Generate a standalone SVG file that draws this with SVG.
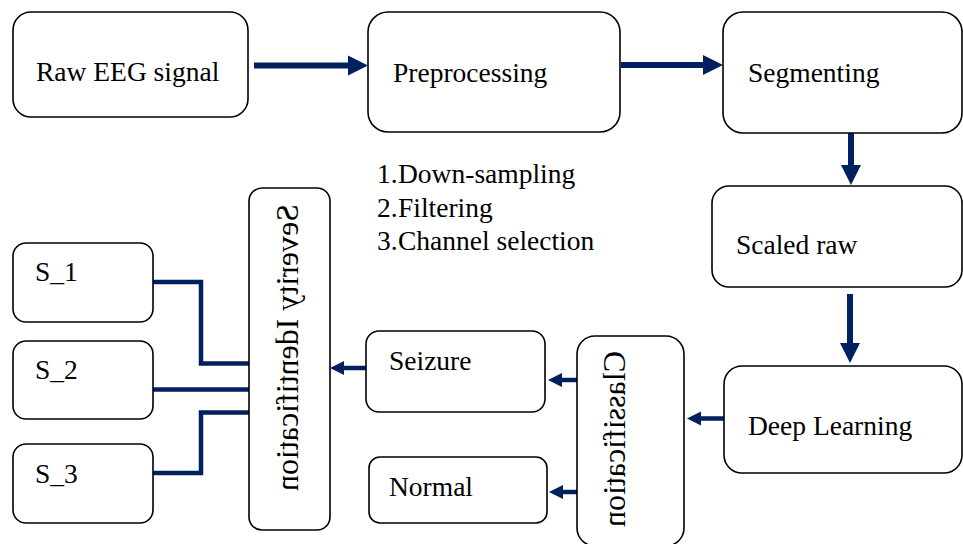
<svg xmlns="http://www.w3.org/2000/svg" width="963" height="544" viewBox="0 0 963 544" font-family="Liberation Serif, Times New Roman, serif">
<style>
.box{fill:#fff;stroke:#000;stroke-width:1.6}
.t{font-family:'Liberation Serif','Times New Roman',serif;font-size:27.5px;fill:#000}
.v{font-family:'Liberation Serif','Times New Roman',serif;font-size:32px;fill:#000}
.big{stroke:#002060;stroke-width:6;fill:none;marker-end:url(#hb)}
.sm{stroke:#002060;stroke-width:4.5;fill:none;marker-end:url(#hs)}
.ln{stroke:#002060;stroke-width:4.5;fill:none}
</style>
<defs>
<marker id="hb" markerUnits="userSpaceOnUse" markerWidth="21" markerHeight="21" refX="1" refY="10" orient="auto" viewBox="0 0 21 20">
<path d="M0,0 L20,10 L0,20 z" fill="#002060"/>
</marker>
<marker id="hs" markerUnits="userSpaceOnUse" markerWidth="15" markerHeight="15" refX="1" refY="7" orient="auto" viewBox="0 0 15 14">
<path d="M0,0 L14,7 L0,14 z" fill="#002060"/>
</marker>
</defs>
<rect width="963" height="544" fill="#fff"/>
<g id="connectors">
<line class="big" x1="254" y1="65.5" x2="349" y2="65.5"/>
<line class="big" x1="621" y1="65" x2="704" y2="65"/>
<line class="big" x1="851" y1="133" x2="851" y2="166"/>
<line class="big" x1="850" y1="294" x2="850" y2="344"/>
<line class="sm" x1="724" y1="418.5" x2="700" y2="418.5"/>
<line class="sm" x1="577" y1="380" x2="561" y2="380"/>
<line class="sm" x1="577" y1="492" x2="562" y2="492"/>
<line class="sm" x1="367" y1="368" x2="343" y2="368"/>
<polyline class="ln" points="153,282 201,282 201,363.5 250,363.5"/>
<line class="ln" x1="153" y1="389.5" x2="250" y2="389.5"/>
<polyline class="ln" points="153,473 201,473 201,412.5 250,412.5"/>
</g>
<g id="raw"><rect class="box" x="13" y="12" width="235" height="105" rx="18"/><text class="t" x="36" y="81">Raw EEG signal</text></g>
<g id="preprocessing"><rect class="box" x="368" y="12" width="252" height="120" rx="20"/><text class="t" x="393" y="82">Preprocessing</text></g>
<g id="segmenting"><rect class="box" x="723" y="12" width="239" height="121" rx="20"/><text class="t" x="748" y="82">Segmenting</text></g>
<g id="steps">
<text class="t" x="377" y="183">1.<tspan x="398">Down-sampling</tspan></text>
<text class="t" x="377" y="217">2.<tspan x="398">Filtering</tspan></text>
<text class="t" x="377" y="250">3.<tspan x="398">Channel selection</tspan></text>
</g>
<g id="scaled"><rect class="box" x="712" y="186" width="250" height="101" rx="17"/><text class="t" x="736" y="254">Scaled raw</text></g>
<g id="deep"><rect class="box" x="724" y="366" width="238" height="107" rx="18"/><text class="t" x="748" y="435">Deep Learning</text></g>
<g id="classification"><rect class="box" x="577" y="336" width="107" height="210" rx="18"/><text class="v" transform="matrix(0,1,1,0,625,351)">Classification</text></g>
<g id="seizure"><rect class="box" x="366" y="331" width="179" height="81" rx="13"/><text class="t" x="389" y="370">Seizure</text></g>
<g id="normal"><rect class="box" x="369" y="457" width="178" height="66" rx="11"/><text class="t" x="389" y="496">Normal</text></g>
<g id="severity"><rect class="box" x="249" y="188" width="81" height="342" rx="13"/><text class="v" transform="matrix(0,1,1,0,298,204)">Severity Identification</text></g>
<g id="s1"><rect class="box" x="13" y="243" width="140" height="79" rx="13"/><text class="t" x="35" y="281">S_1</text></g>
<g id="s2"><rect class="box" x="13" y="341" width="140" height="78" rx="13"/><text class="t" x="35" y="379">S_2</text></g>
<g id="s3"><rect class="box" x="13" y="444" width="140" height="79" rx="13"/><text class="t" x="35" y="483">S_3</text></g>
</svg>
